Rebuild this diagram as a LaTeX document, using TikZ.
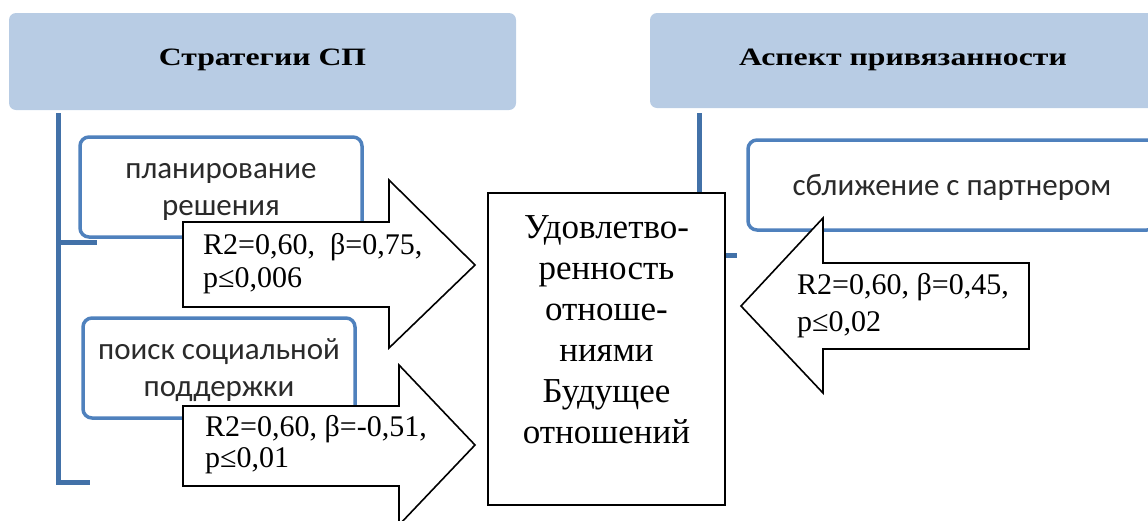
\documentclass[tikz,border=0pt]{standalone}
\usepackage{fontspec}
\setmainfont{Liberation Serif}
\newfontfamily\calib{Carlito}
\usepackage{graphicx}
\definecolor{hdrblue}{HTML}{B8CCE4}
\definecolor{childblue}{HTML}{4F81BD}
\definecolor{connblue}{HTML}{4271A8}
\definecolor{childtext}{HTML}{2A2A2A}
\begin{document}
\begin{tikzpicture}[x=1pt,y=-1pt,
  hdr/.style={fill=hdrblue, rounded corners=7pt, inner sep=0pt},
  hdrtext/.style={font=\fontsize{25}{30}\selectfont\bfseries},
  child/.style={draw=childblue, line width=3.5pt, fill=white, rounded corners=9pt, inner sep=0pt},
  childtxt/.style={text=childtext, align=center, inner sep=0pt, font=\calib\fontsize{31}{37}\selectfont},
  conn/.style={draw=connblue, line width=5pt},
  blockarrow/.style={draw=black, line width=1.6pt, fill=white, line join=miter},
  mainbox/.style={draw=black, line width=1.6pt, fill=white, inner sep=0pt},
  lbl/.style={align=left, anchor=north west, inner sep=0pt},
 ]
\useasboundingbox (0,0) rectangle (1148,520);
\clip (0,0) rectangle (1148,520);

% headers
\node[hdr, minimum width=507pt, minimum height=97pt] (h1) at (262.5,61.5) {};
\node[hdrtext] (h1t) at (262.5,60) {\scalebox{1.27}[1]{Стратегии СП}};
\node[hdr, minimum width=506pt, minimum height=95pt] (h2) at (903,60.5) {};
\node[hdrtext] (h2t) at (903,60) {\scalebox{1.27}[1]{Аспект привязанности}};

% connector lines
\coordinate (l1top) at (58,113);
\coordinate (l1mid) at (58,242);
\coordinate (l1midend) at (97,242);
\coordinate (l1bot) at (58,482);
\coordinate (l1botend) at (90,482);
\draw[conn] (l1top) -- (l1bot) -- (l1botend);
\draw[conn] (l1mid) -- (l1midend);
\coordinate (l2top) at (699,113);
\coordinate (l2bot) at (699,255);
\coordinate (l2end) at (737,255);
\draw[conn] (l2top) -- (l2bot) -- (l2end);

% child boxes
\node[child, minimum width=282pt, minimum height=100pt] (c1) at (221,187) {};
\node[childtxt] (c1t) at (221,192) {планирование\\решения};
\node[child, minimum width=272pt, minimum height=100pt] (c2) at (219,368) {};
\node[childtxt] (c2t) at (219,370) {поиск социальной\\поддержки};
\node[child, minimum width=408pt, minimum height=90pt] (c3) at (952,185) {};
\node[childtxt] (c3t) at (952,187) {сближение с партнером};

% central box
\node[mainbox, minimum width=237pt, minimum height=312pt] (m) at (606.5,349) {};
\node[align=center, inner sep=0pt, font=\fontsize{35}{41}\selectfont] (mt) at (606.5,330)
  {Удовлетво-\\ренность\\отноше-\\ниями\\Будущее\\отношений};

% block arrow 1
\coordinate (a1tip) at (475,265);
\draw[blockarrow] (183,222) -- (389,222) -- (389,180) -- (a1tip) -- (389,348) -- (389,307) -- (183,307) -- cycle;
\node[lbl, font=\fontsize{30}{33}\selectfont] (a1t) at (203,233) {R2=0,60,\ \ β=0,75,\\p≤0,006};

% block arrow 2
\coordinate (a2tip) at (475,445);
\draw[blockarrow] (183,406) -- (399,406) -- (399,365) -- (a2tip) -- (399,525) -- (399,486) -- (183,486) -- cycle;
\node[lbl, font=\fontsize{30}{31}\selectfont] (a2t) at (205,415) {R2=0,60, β=-0,51,\\p≤0,01};

% block arrow 3
\coordinate (a3tip) at (741,306);
\draw[blockarrow] (1029,263) -- (823,263) -- (823,218) -- (a3tip) -- (823,393) -- (823,349) -- (1029,349) -- cycle;
\node[lbl, font=\fontsize{30}{37}\selectfont] (a3t) at (797,273) {R2=0,60, β=0,45,\\p≤0,02};
\end{tikzpicture}
\end{document}
